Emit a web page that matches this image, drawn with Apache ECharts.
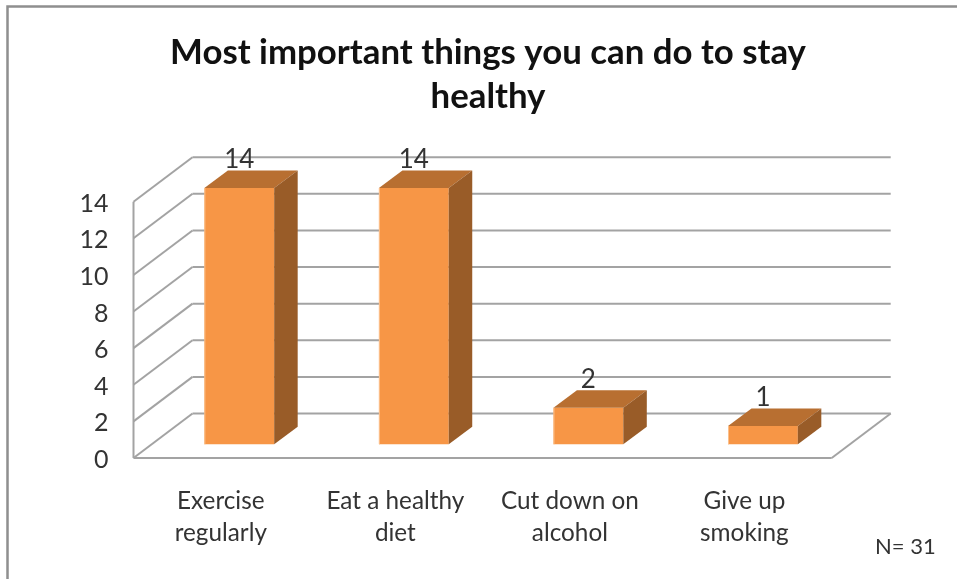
<!DOCTYPE html>
<html><head><meta charset="utf-8">
<style>html,body{margin:0;padding:0;background:#fff}#c{width:957px;height:579px}</style>
<script src="https://cdn.jsdelivr.net/npm/echarts@6/dist/echarts.min.js"></script>
</head><body><div id="c"></div>
<script>
var categories = ['Exercise\nregularly', 'Eat a healthy\ndiet', 'Cut down on\nalcohol', 'Give up\nsmoking'];
var values = [14, 14, 2, 1];
var yTicks = [0, 2, 4, 6, 8, 10, 12, 14];
var titleText = 'Most important things you can do to stay\nhealthy';
var noteText = 'N= 31';

var FONT = 'Lato, "Open Sans", sans-serif';
var WALL_DX = 59, WALL_DY = -44.5;
var BAR_DEPTH_DX = 23.5, BAR_DEPTH_DY = -17.5;
var BAR_FRONT_DX = 18.5, BAR_FRONT_DY = -13.7;
var LINE = {stroke: '#a3a3a3', lineWidth: 2, fill: null};

var chart = echarts.init(document.getElementById('c'), null, {renderer: 'canvas'});

function ln(x1, y1, x2, y2) {
  return {type: 'line', shape: {x1: x1, y1: y1, x2: x2, y2: y2}, style: LINE, silent: true};
}
function poly(pts, fill) {
  return {type: 'polygon', shape: {points: pts}, style: {fill: fill, stroke: null}};
}

function renderWall(params, api) {
  var cs = params.coordSys;
  var left = cs.x, right = cs.x + cs.width;
  var p = api.coord([0, api.value(0)]);
  var y = p[1];
  var kids = [];
  var tick = api.value(0);
  kids.push(ln(left, y, left + WALL_DX, y + WALL_DY));
  kids.push(ln(left + WALL_DX, y + WALL_DY, right + WALL_DX, y + WALL_DY));
  if (tick === 0) {
    kids.push(ln(left, y, right, y));
    kids.push(ln(right, y, right + WALL_DX, y + WALL_DY));
    kids.push(ln(left, y, left, cs.y));
  }
  return {type: 'group', children: kids};
}

function renderBar(params, api) {
  var idx = api.value(0), val = api.value(1);
  var top = api.coord([idx, val]);
  var base = api.coord([idx, 0]);
  var band = api.size([1, 0])[0];
  var w = band * 0.4;
  var x0 = top[0] - w / 2 + BAR_FRONT_DX;
  var x1 = x0 + w;
  var yT = top[1] + BAR_FRONT_DY;
  var yB = base[1] + BAR_FRONT_DY;
  var dx = BAR_DEPTH_DX, dy = BAR_DEPTH_DY;
  return {type: 'group', children: [
    poly([[x0, yB], [x1, yB], [x1, yT], [x0, yT]], '#f79646'),
    poly([[x0, yT], [x1, yT], [x1 + dx, yT + dy], [x0 + dx, yT + dy]], '#b86f31'),
    poly([[x1, yB], [x1 + dx, yB + dy], [x1 + dx, yT + dy], [x1, yT]], '#995c28'),
    {type: 'line', shape: {x1: x0 + 0.5, y1: yB, x2: x0 + 0.5, y2: yT}, style: {stroke: '#fbc08c', lineWidth: 1}},
    {type: 'text', style: {text: String(val), x: (x0 + x1) / 2, y: yT + dy + 2, align: 'center', verticalAlign: 'bottom',
      font: '26px ' + FONT, fill: '#333'}}
  ]};
}

chart.setOption({
  animation: false,
  backgroundColor: '#fff',
  title: {
    text: titleText, left: 483, top: 26, textAlign: 'center',
    textStyle: {fontFamily: FONT, fontSize: 34.8, fontWeight: 'bold', color: '#111', lineHeight: 44}
  },
  grid: {left: 133.5, top: 201.7, width: 698.2, height: 256.3, containLabel: false},
  xAxis: {
    type: 'category', data: categories,
    axisLine: {show: false}, axisTick: {show: false}, splitLine: {show: false},
    axisLabel: {interval: 0, margin: 27, fontFamily: FONT, fontSize: 24.3, lineHeight: 32, color: '#333'}
  },
  yAxis: {
    type: 'value', min: 0, max: 14, interval: 2,
    axisLine: {show: false}, axisTick: {show: false}, splitLine: {show: false},
    axisLabel: {margin: 25, color: '#333', formatter: '{a|{value}}',
      rich: {a: {fontFamily: FONT, fontSize: 25, color: '#333', padding: [4, 0, 0, 0]}}}
  },
  graphic: [
    {type: 'polyline', shape: {points: [[7.5, 579], [7.5, 6.5], [957, 6.5]]}, style: {stroke: '#8f8f8f', lineWidth: 2.5, fill: null}, silent: true},
    {type: 'text', left: 875, top: 536, style: {text: noteText, font: '22px ' + FONT, fill: '#333'}}
  ],
  series: [
    {type: 'custom', renderItem: renderWall, data: yTicks.map(function (t) { return [t]; }),
      encode: {y: 0}, silent: true, z: 1, clip: false},
    {type: 'custom', renderItem: renderBar, data: values.map(function (v, i) { return [i, v]; }),
      encode: {x: 0, y: 1}, silent: true, z: 2, clip: false}
  ]
});
</script></body></html>
